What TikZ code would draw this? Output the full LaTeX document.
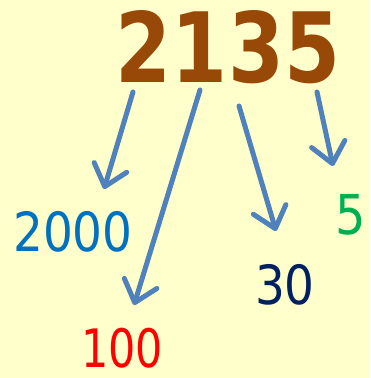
\documentclass[tikz,border=0pt]{standalone}
\usepackage{fontspec}
\setmainfont{DejaVu Sans}
\usetikzlibrary{arrows.meta}
\definecolor{bg}{HTML}{FFFFCC}
\definecolor{brown}{HTML}{984807}
\definecolor{arrowblue}{HTML}{4F81BD}
\definecolor{tblue}{HTML}{0070C0}
\definecolor{tred}{HTML}{FF0000}
\definecolor{tnavy}{HTML}{002060}
\definecolor{tgreen}{HTML}{00B050}
\tikzset{
  num/.style={inner sep=0pt, font=\fontsize{54}{54}\selectfont, xscale=0.87, transform shape},
  bignum/.style={inner sep=0pt, font=\fontsize{97}{97}\bfseries\selectfont, xscale=0.83, transform shape, text=brown},
  arr/.style={draw=arrowblue, line width=5pt, line cap=round, -{Straight Barb[length=20pt,width=34pt,round]}}
}
\begin{document}
\begin{tikzpicture}[x=1pt,y=-1pt]
\fill[bg] (0,0) rectangle (370,378);
\useasboundingbox (0,0) rectangle (370,378);
\node[bignum] (top) at (228,47) {2135};
\node[num, text=tblue] (n2000) at (73,232) {2000};
\node[num, text=tred, font=\fontsize{53}{53}\selectfont, xscale=0.93] (n100) at (122,348) {100};
\node[num, text=tnavy] (n30) at (285,285) {30};
\node[num, text=tgreen, font=\fontsize{55}{55}\selectfont] (n5) at (351,215) {5};
\coordinate (s1) at (133,92);
\coordinate (e1) at (104,189);
\coordinate (s2) at (200,90);
\coordinate (e2) at (134,305);
\coordinate (s3) at (239,106);
\coordinate (e3) at (276,231);
\coordinate (s4) at (317,92);
\coordinate (e4) at (333,166);
\draw[arr] (s1) -- (e1);
\draw[arr] (s2) -- (e2);
\draw[arr] (s3) -- (e3);
\draw[arr] (s4) -- (e4);
\end{tikzpicture}
\end{document}
